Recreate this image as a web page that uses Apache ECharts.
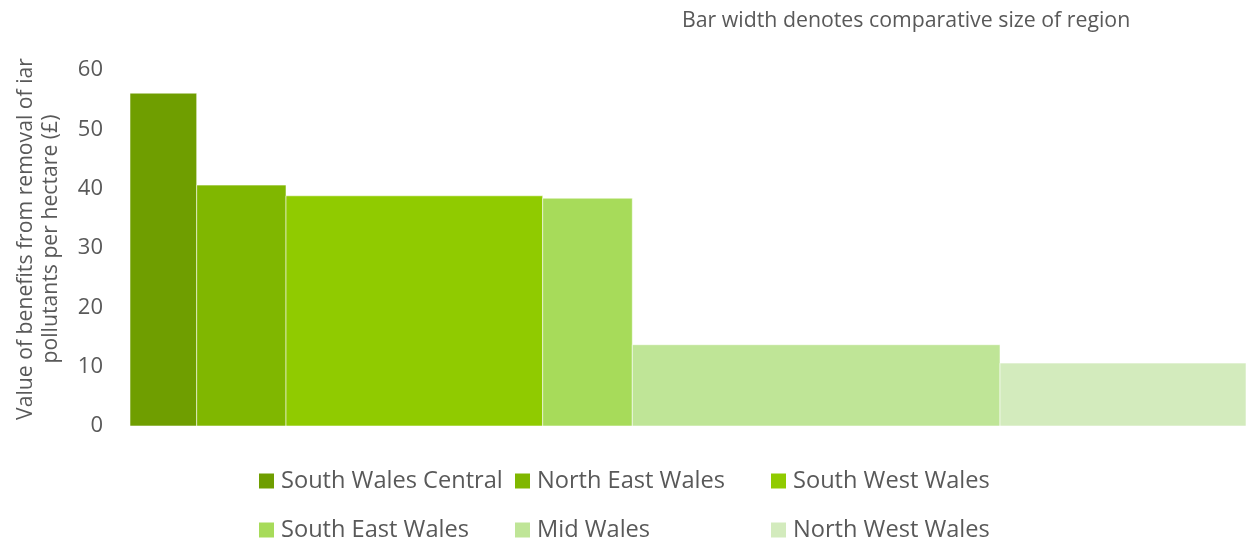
<!DOCTYPE html>
<html>
<head>
<meta charset="utf-8">
<style>
  html, body { margin: 0; padding: 0; background: #ffffff; }
  #chart { width: 1249px; height: 539px; }
</style>
<script src="https://cdn.jsdelivr.net/npm/echarts@6/dist/echarts.min.js"></script>
</head>
<body>
<div id="chart"></div>
<script>
// Regions of Wales, their comparative size (bar width) and benefit value (bar height)
const regions = ['South Wales Central', 'North East Wales', 'South West Wales',
                 'South East Wales', 'Mid Wales', 'North West Wales'];
const regionSize = [66.7, 89.3, 256.7, 89.6, 367.7, 246];
const benefitValues = [56.1, 40.6, 38.8, 38.4, 13.7, 10.6];
const regionColors = ['#6f9e00', '#80b700', '#90cb00', '#a7db5a', '#bfe597', '#d3ebbd'];
const yTicks = [0, 10, 20, 30, 40, 50, 60];

const textColor = '#595959';
const fontFamily = '"Open Sans", "Noto Sans", sans-serif';

// Running start of each bar along the size axis
const starts = [];
let acc = 0;
regionSize.forEach(function (s) { starts.push(acc); acc += s; });
const totalSize = acc;

const series = regions.map(function (name, i) {
  return {
    name: name,
    type: 'custom',
    itemStyle: { color: regionColors[i] },
    data: [[starts[i], starts[i] + regionSize[i], benefitValues[i]]],
    encode: { x: [0, 1], y: 2 },
    renderItem: function (params, api) {
      const p0 = api.coord([api.value(0), api.value(2)]);
      const p1 = api.coord([api.value(1), 0]);
      return {
        type: 'rect',
        shape: { x: p0[0], y: p0[1], width: p1[0] - p0[0], height: p1[1] - p0[1] },
        style: { fill: regionColors[i], stroke: 'rgba(255,255,255,0.55)', lineWidth: 1 }
      };
    }
  };
});

// Legend laid out as a 3 x 2 grid
const legendCols = [259, 515, 771];
const legendRows = [467, 516];
const legends = regions.map(function (name, i) {
  return {
    data: [{ name: name, icon: 'rect' }],
    left: legendCols[i % 3],
    top: legendRows[Math.floor(i / 3)],
    padding: 0,
    itemWidth: 15,
    itemHeight: 15,
    selectedMode: false,
    textStyle: {
      color: textColor, fontSize: 23.6, fontFamily: fontFamily,
      lineHeight: 28, padding: [0, 0, 0, 2]
    }
  };
});

const chart = echarts.init(document.getElementById('chart'), null, { renderer: 'canvas' });
chart.setOption({
  animation: false,
  backgroundColor: '#ffffff',
  title: {
    text: 'Bar width denotes comparative size of region',
    left: 682,
    top: 8,
    padding: 0,
    textStyle: { color: textColor, fontSize: 21.3, fontWeight: 'normal', fontFamily: fontFamily, lineHeight: 26 }
  },
  legend: legends,
  grid: { left: 130, right: 3, top: 70, bottom: 113, containLabel: false },
  xAxis: {
    type: 'value',
    min: 0,
    max: totalSize,
    show: false
  },
  yAxis: {
    type: 'value',
    min: yTicks[0],
    max: yTicks[yTicks.length - 1],
    interval: 10,
    name: 'Value of benefits from removal of iar\npollutants per hectare (£)',
    nameLocation: 'middle',
    nameRotate: 90,
    nameGap: 67,
    nameTextStyle: {
      color: textColor, fontSize: 21.2, fontFamily: fontFamily,
      lineHeight: 25, align: 'center', padding: [0, 0, 0, 18]
    },
    axisLine: { show: false },
    axisTick: { show: false },
    splitLine: { show: false },
    axisLabel: { color: textColor, fontSize: 22, fontFamily: fontFamily, margin: 27 }
  },
  series: series
});
</script>
</body>
</html>
